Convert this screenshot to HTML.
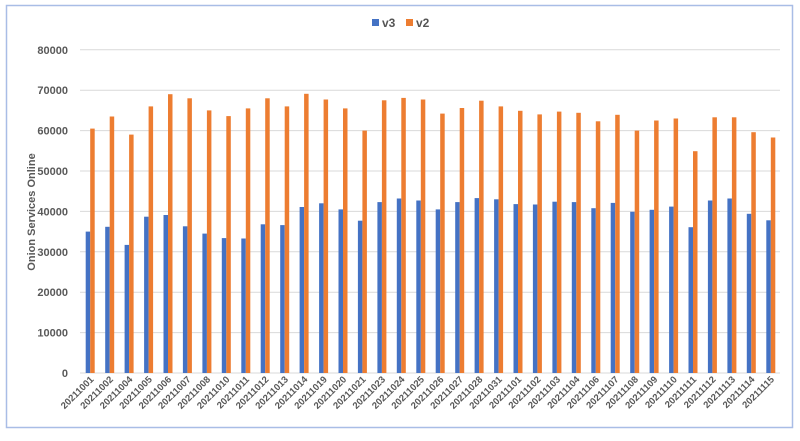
<!DOCTYPE html><html><head><style>body{margin:0;background:#fff}svg{font-family:"Liberation Sans",sans-serif}</style></head><body>
<svg width="800" height="436" xmlns="http://www.w3.org/2000/svg">
<rect x="6.5" y="5.5" width="786" height="422" fill="#fff" stroke="#a9bde6" stroke-width="1.5"/>
<g stroke="#d9d9d9">
<line x1="80" x2="780" y1="373" y2="373"/><line x1="80" x2="780" y1="332.6" y2="332.6"/><line x1="80" x2="780" y1="292.2" y2="292.2"/><line x1="80" x2="780" y1="251.8" y2="251.8"/><line x1="80" x2="780" y1="211.4" y2="211.4"/><line x1="80" x2="780" y1="171" y2="171"/><line x1="80" x2="780" y1="130.6" y2="130.6"/><line x1="80" x2="780" y1="90.2" y2="90.2"/><line x1="80" x2="780" y1="49.8" y2="49.8"/>
</g>
<g font-size="11" font-weight="bold" fill="#595959" text-anchor="end">
<text x="68" y="377">0</text><text x="68" y="336.6">10000</text><text x="68" y="296.2">20000</text><text x="68" y="255.8">30000</text><text x="68" y="215.4">40000</text><text x="68" y="175">50000</text><text x="68" y="134.6">60000</text><text x="68" y="94.2">70000</text><text x="68" y="53.8">80000</text>
</g>
<g fill="#4472c4">
<rect x="85.7" y="231.6" width="4.5" height="141.4"/>
<rect x="105.2" y="226.8" width="4.5" height="146.2"/>
<rect x="124.6" y="244.9" width="4.5" height="128.1"/>
<rect x="144.1" y="216.7" width="4.5" height="156.3"/>
<rect x="163.5" y="215.0" width="4.5" height="158.0"/>
<rect x="182.9" y="226.3" width="4.5" height="146.7"/>
<rect x="202.4" y="233.6" width="4.5" height="139.4"/>
<rect x="221.8" y="238.1" width="4.5" height="134.9"/>
<rect x="241.3" y="238.5" width="4.5" height="134.5"/>
<rect x="260.7" y="224.3" width="4.5" height="148.7"/>
<rect x="280.2" y="225.1" width="4.5" height="147.9"/>
<rect x="299.6" y="207.0" width="4.5" height="166.0"/>
<rect x="319.1" y="203.3" width="4.5" height="169.7"/>
<rect x="338.5" y="209.4" width="4.5" height="163.6"/>
<rect x="357.9" y="220.7" width="4.5" height="152.3"/>
<rect x="377.4" y="202.1" width="4.5" height="170.9"/>
<rect x="396.8" y="198.5" width="4.5" height="174.5"/>
<rect x="416.3" y="200.5" width="4.5" height="172.5"/>
<rect x="435.7" y="209.4" width="4.5" height="163.6"/>
<rect x="455.2" y="202.1" width="4.5" height="170.9"/>
<rect x="474.6" y="198.1" width="4.5" height="174.9"/>
<rect x="494.1" y="199.3" width="4.5" height="173.7"/>
<rect x="513.5" y="204.1" width="4.5" height="168.9"/>
<rect x="532.9" y="204.5" width="4.5" height="168.5"/>
<rect x="552.4" y="201.7" width="4.5" height="171.3"/>
<rect x="571.8" y="202.1" width="4.5" height="170.9"/>
<rect x="591.3" y="208.2" width="4.5" height="164.8"/>
<rect x="610.7" y="202.9" width="4.5" height="170.1"/>
<rect x="630.2" y="211.8" width="4.5" height="161.2"/>
<rect x="649.6" y="209.8" width="4.5" height="163.2"/>
<rect x="669.1" y="206.6" width="4.5" height="166.4"/>
<rect x="688.5" y="227.2" width="4.5" height="145.8"/>
<rect x="707.9" y="200.5" width="4.5" height="172.5"/>
<rect x="727.4" y="198.5" width="4.5" height="174.5"/>
<rect x="746.8" y="213.8" width="4.5" height="159.2"/>
<rect x="766.3" y="220.3" width="4.5" height="152.7"/>
</g>
<g fill="#ed7d31">
<rect x="90.2" y="128.6" width="4.5" height="244.4"/>
<rect x="109.7" y="116.5" width="4.5" height="256.5"/>
<rect x="129.1" y="134.6" width="4.5" height="238.4"/>
<rect x="148.6" y="106.4" width="4.5" height="266.6"/>
<rect x="168.0" y="94.2" width="4.5" height="278.8"/>
<rect x="187.4" y="98.3" width="4.5" height="274.7"/>
<rect x="206.9" y="110.4" width="4.5" height="262.6"/>
<rect x="226.3" y="116.1" width="4.5" height="256.9"/>
<rect x="245.8" y="108.4" width="4.5" height="264.6"/>
<rect x="265.2" y="98.3" width="4.5" height="274.7"/>
<rect x="284.7" y="106.4" width="4.5" height="266.6"/>
<rect x="304.1" y="93.8" width="4.5" height="279.2"/>
<rect x="323.6" y="99.5" width="4.5" height="273.5"/>
<rect x="343.0" y="108.4" width="4.5" height="264.6"/>
<rect x="362.4" y="130.6" width="4.5" height="242.4"/>
<rect x="381.9" y="100.3" width="4.5" height="272.7"/>
<rect x="401.3" y="97.9" width="4.5" height="275.1"/>
<rect x="420.8" y="99.5" width="4.5" height="273.5"/>
<rect x="440.2" y="113.6" width="4.5" height="259.4"/>
<rect x="459.7" y="108.0" width="4.5" height="265.0"/>
<rect x="479.1" y="100.7" width="4.5" height="272.3"/>
<rect x="498.6" y="106.4" width="4.5" height="266.6"/>
<rect x="518.0" y="110.8" width="4.5" height="262.2"/>
<rect x="537.4" y="114.4" width="4.5" height="258.6"/>
<rect x="556.9" y="111.6" width="4.5" height="261.4"/>
<rect x="576.3" y="112.8" width="4.5" height="260.2"/>
<rect x="595.8" y="121.3" width="4.5" height="251.7"/>
<rect x="615.2" y="114.8" width="4.5" height="258.2"/>
<rect x="634.7" y="130.6" width="4.5" height="242.4"/>
<rect x="654.1" y="120.5" width="4.5" height="252.5"/>
<rect x="673.6" y="118.5" width="4.5" height="254.5"/>
<rect x="693.0" y="151.2" width="4.5" height="221.8"/>
<rect x="712.4" y="117.3" width="4.5" height="255.7"/>
<rect x="731.9" y="117.3" width="4.5" height="255.7"/>
<rect x="751.3" y="132.2" width="4.5" height="240.8"/>
<rect x="770.8" y="137.5" width="4.5" height="235.5"/>
</g>
<g font-size="9.5" font-weight="bold" fill="#595959" text-anchor="end">
<text transform="translate(94.2,380) rotate(-45)">20211001</text>
<text transform="translate(113.7,380) rotate(-45)">20211002</text>
<text transform="translate(133.1,380) rotate(-45)">20211004</text>
<text transform="translate(152.6,380) rotate(-45)">20211005</text>
<text transform="translate(172.0,380) rotate(-45)">20211006</text>
<text transform="translate(191.4,380) rotate(-45)">20211007</text>
<text transform="translate(210.9,380) rotate(-45)">20211008</text>
<text transform="translate(230.3,380) rotate(-45)">20211010</text>
<text transform="translate(249.8,380) rotate(-45)">20211011</text>
<text transform="translate(269.2,380) rotate(-45)">20211012</text>
<text transform="translate(288.7,380) rotate(-45)">20211013</text>
<text transform="translate(308.1,380) rotate(-45)">20211014</text>
<text transform="translate(327.6,380) rotate(-45)">20211019</text>
<text transform="translate(347.0,380) rotate(-45)">20211020</text>
<text transform="translate(366.4,380) rotate(-45)">20211021</text>
<text transform="translate(385.9,380) rotate(-45)">20211023</text>
<text transform="translate(405.3,380) rotate(-45)">20211024</text>
<text transform="translate(424.8,380) rotate(-45)">20211025</text>
<text transform="translate(444.2,380) rotate(-45)">20211026</text>
<text transform="translate(463.7,380) rotate(-45)">20211027</text>
<text transform="translate(483.1,380) rotate(-45)">20211028</text>
<text transform="translate(502.6,380) rotate(-45)">20211031</text>
<text transform="translate(522.0,380) rotate(-45)">20211101</text>
<text transform="translate(541.4,380) rotate(-45)">20211102</text>
<text transform="translate(560.9,380) rotate(-45)">20211103</text>
<text transform="translate(580.3,380) rotate(-45)">20211104</text>
<text transform="translate(599.8,380) rotate(-45)">20211106</text>
<text transform="translate(619.2,380) rotate(-45)">20211107</text>
<text transform="translate(638.7,380) rotate(-45)">20211108</text>
<text transform="translate(658.1,380) rotate(-45)">20211109</text>
<text transform="translate(677.6,380) rotate(-45)">20211110</text>
<text transform="translate(697.0,380) rotate(-45)">20211111</text>
<text transform="translate(716.4,380) rotate(-45)">20211112</text>
<text transform="translate(735.9,380) rotate(-45)">20211113</text>
<text transform="translate(755.3,380) rotate(-45)">20211114</text>
<text transform="translate(774.8,380) rotate(-45)">20211115</text>
</g>
<rect x="372" y="19" width="7" height="7" fill="#4472c4"/><text x="382" y="27" font-size="12" font-weight="bold" fill="#555">v3</text>
<rect x="406" y="19" width="7" height="7" fill="#ed7d31"/><text x="416" y="27" font-size="12" font-weight="bold" fill="#555">v2</text>
<text transform="translate(35,212) rotate(-90)" text-anchor="middle" font-size="11" font-weight="bold" fill="#595959">Onion Services Online</text>
</svg></body></html>
